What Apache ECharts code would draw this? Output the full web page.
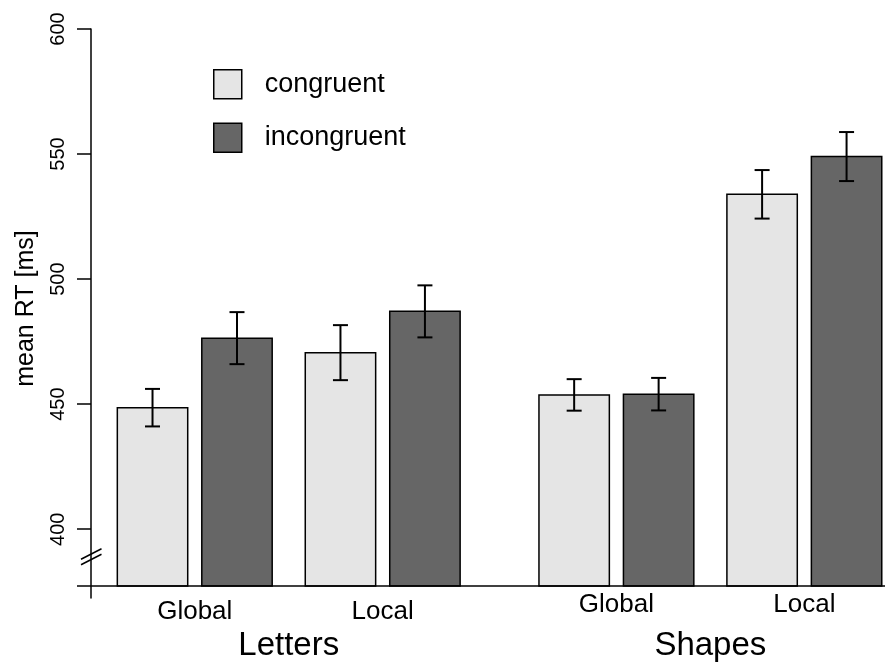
<!DOCTYPE html>
<html>
<head>
<meta charset="utf-8">
<script src="https://cdn.jsdelivr.net/npm/echarts@6/dist/echarts.min.js"></script>
<style>
html,body{margin:0;padding:0;background:#fff;}
#chart{width:885px;height:666px;}
</style>
</head>
<body>
<div id="chart"></div>
<script>
// ---- data ----
const stimulusTypes = ['Letters', 'Shapes'];
const levels = ['Global', 'Local'];
const conditionLabels = ['Global', 'Local', 'Global', 'Local'];
const seriesNames = ['congruent', 'incongruent'];
const congruentRT = [448.6, 470.6, 453.7, 533.9];
const congruentSE = [7.5, 11.0, 6.3, 9.7];
const incongruentRT = [476.4, 487.1, 454.0, 549.0];
const incongruentSE = [10.4, 10.4, 6.5, 9.8];
const yTickValues = [400, 450, 500, 550, 600];
const yAxisName = 'mean RT [ms]';

// ---- layout (bar-width units) ----
const baseValue = 377.3;
const layout = { leftPad: 0.374, barW: 1, innerGap: 0.2, condGap: 0.47, groupGap: 1.12, xMax: 11.28 };
const pairW = 2 * layout.barW + layout.innerGap;
const centers = [];
(function () {
  let x = layout.leftPad + pairW / 2;
  for (let g = 0; g < 4; g++) {
    centers.push(x);
    x += pairW + (g === 1 ? layout.groupGap : layout.condGap);
  }
})();
const groupCenters = [(centers[0] + centers[1]) / 2, (centers[2] + centers[3]) / 2];
const barOffset = layout.barW / 2 + layout.innerGap / 2;

const FONT = '"Liberation Sans", Arial, Helvetica, sans-serif';
const colors = ['#e5e5e5', '#666666'];

function makeRender(sIdx) {
  return function (params, api) {
    const g = api.value(0), v = api.value(1), se = api.value(2);
    const cx = centers[g] + (sIdx === 0 ? -barOffset : barOffset);
    const tl = api.coord([cx - layout.barW / 2, v]);
    const br = api.coord([cx + layout.barW / 2, baseValue]);
    const top = api.coord([cx, v + se]);
    const bot = api.coord([cx, v - se]);
    const cap = 7.5;
    const ls = { stroke: '#000', lineWidth: 2 };
    return {
      type: 'group',
      children: [
        { type: 'rect', shape: { x: tl[0], y: tl[1], width: br[0] - tl[0], height: br[1] - tl[1] },
          style: { fill: colors[sIdx], stroke: '#000', lineWidth: 1.5 } },
        { type: 'line', shape: { x1: top[0], y1: top[1], x2: bot[0], y2: bot[1] }, style: ls },
        { type: 'line', shape: { x1: top[0] - cap, y1: top[1], x2: top[0] + cap, y2: top[1] }, style: ls },
        { type: 'line', shape: { x1: bot[0] - cap, y1: bot[1], x2: bot[0] + cap, y2: bot[1] }, style: ls }
      ]
    };
  };
}

const congruentData = congruentRT.map((v, i) => [i, v, congruentSE[i]]);
const incongruentData = incongruentRT.map((v, i) => [i, v, incongruentSE[i]]);

const chart = echarts.init(document.getElementById('chart'), null, { renderer: 'canvas' });
const option = {
  animation: false,
  backgroundColor: '#fff',
  grid: { left: 91, right: 0, top: 29, bottom: 68, containLabel: false, outerBoundsMode: 'none' },
  legend: {
    orient: 'vertical', left: 213, top: 69, padding: 0,
    itemWidth: 28, itemHeight: 29, itemGap: 23,
    formatter: '{a|{name}}',
    textStyle: { color: '#000', fontFamily: FONT, fontSize: 27,
      rich: { a: { fontFamily: FONT, fontSize: 27, color: '#000', padding: [0, 0, 0, 18] } } },
    data: [
      { name: seriesNames[0], icon: 'rect', itemStyle: { color: colors[0], borderColor: '#000', borderWidth: 1.5 } },
      { name: seriesNames[1], icon: 'rect', itemStyle: { color: colors[1], borderColor: '#000', borderWidth: 1.5 } }
    ]
  },
  xAxis: [
    {
      type: 'value', min: 0, max: layout.xMax,
      axisLine: { show: false }, axisTick: { show: false }, splitLine: { show: false },
      axisLabel: {
        customValues: centers, margin: -6, color: '#000', fontFamily: FONT, fontSize: 26,
        formatter: function (val) {
          let idx = 0, best = 1e9;
          centers.forEach((c, i) => { if (Math.abs(c - val) < best) { best = Math.abs(c - val); idx = i; } });
          return idx < 2 ? '{l|' + conditionLabels[idx] + '}' : '{s|' + conditionLabels[idx] + '}';
        },
        rich: {
          l: { fontFamily: FONT, fontSize: 26, color: '#000', padding: [7, 0, 0, 0] },
          s: { fontFamily: FONT, fontSize: 26, color: '#000' }
        }
      }
    },
    {
      type: 'value', min: 0, max: layout.xMax, position: 'bottom',
      axisLine: { show: false }, axisTick: { show: false }, splitLine: { show: false },
      axisLabel: {
        customValues: groupCenters, margin: 31, color: '#000', fontFamily: FONT, fontSize: 33,
        formatter: function (val) {
          return Math.abs(val - groupCenters[0]) < 0.5 ? stimulusTypes[0] : stimulusTypes[1];
        }
      }
    }
  ],
  yAxis: {
    type: 'value', min: 372.5, max: 600,
    name: yAxisName, nameLocation: 'middle', nameGap: 52,
    nameTextStyle: { color: '#000', fontFamily: FONT, fontSize: 25, padding: [0, 0, 0, 10] },
    axisLine: { show: true, lineStyle: { color: '#000', width: 1.5 } },
    axisTick: { show: true, customValues: yTickValues, length: 14, lineStyle: { color: '#000', width: 1.5 } },
    axisLabel: { customValues: yTickValues, rotate: 90, margin: 23, color: '#000', fontFamily: FONT, fontSize: 20 },
    splitLine: { show: false }
  },
  series: [
    { name: seriesNames[0], type: 'custom', xAxisIndex: 0, renderItem: makeRender(0), data: congruentData,
      itemStyle: { color: colors[0], borderColor: '#000' }, encode: { x: 0, y: 1 } },
    { name: seriesNames[1], type: 'custom', xAxisIndex: 0, renderItem: makeRender(1), data: incongruentData,
      itemStyle: { color: colors[1], borderColor: '#000' }, encode: { x: 0, y: 1 } }
  ]
};
chart.setOption(option);

// baseline and axis-break marks (decoration)
const pBase = chart.convertToPixel({ gridIndex: 0 }, [0, baseValue]);
const pBreak = chart.convertToPixel({ gridIndex: 0 }, [0, 389]);
const ax = pBase[0];
chart.setOption({
  graphic: [
    { type: 'line', shape: { x1: ax - 14, y1: pBase[1], x2: 885, y2: pBase[1] }, style: { stroke: '#000', lineWidth: 1.5 }, z: 10 },
    { type: 'line', shape: { x1: ax - 10, y1: pBreak[1] + 2.5, x2: ax + 10.5, y2: pBreak[1] - 8 }, style: { stroke: '#000', lineWidth: 1.5 }, z: 10 },
    { type: 'line', shape: { x1: ax - 10, y1: pBreak[1] + 8, x2: ax + 10.5, y2: pBreak[1] - 2.5 }, style: { stroke: '#000', lineWidth: 1.5 }, z: 10 }
  ]
});
</script>
</body>
</html>
